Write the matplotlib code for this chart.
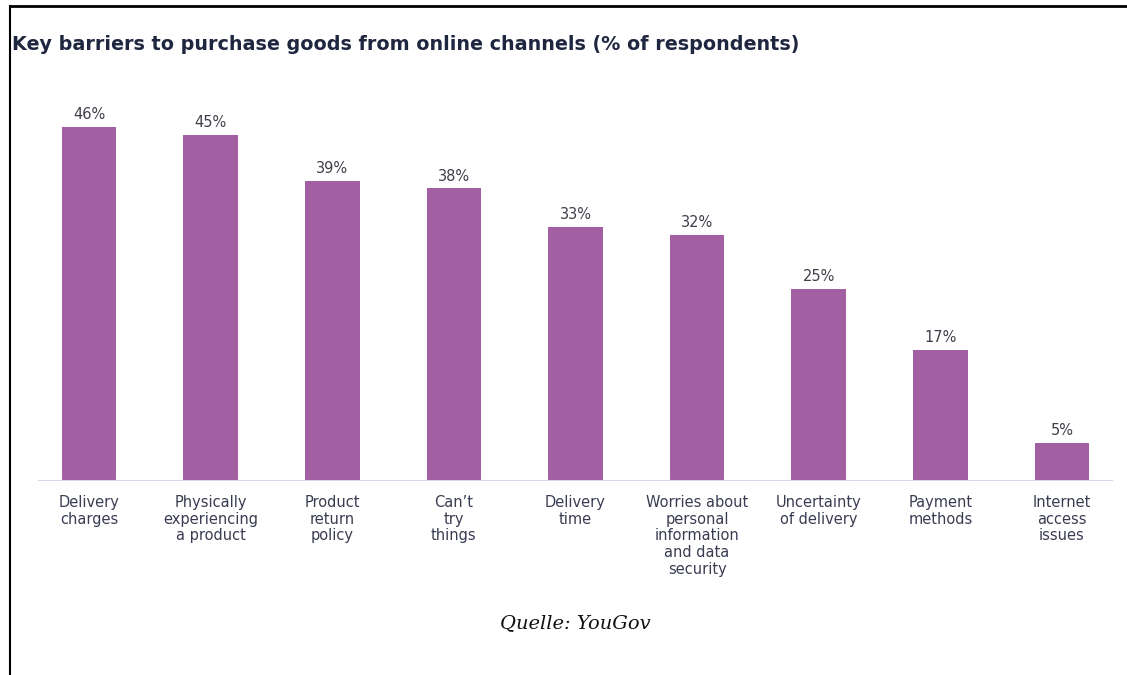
import matplotlib
matplotlib.use("Agg")
import matplotlib.pyplot as plt
from matplotlib.lines import Line2D

categories = [
    "Delivery\ncharges",
    "Physically\nexperiencing\na product",
    "Product\nreturn\npolicy",
    "Can\u2019t\ntry\nthings",
    "Delivery\ntime",
    "Worries about\npersonal\ninformation\nand data\nsecurity",
    "Uncertainty\nof delivery",
    "Payment\nmethods",
    "Internet\naccess\nissues",
]
values = [46, 45, 39, 38, 33, 32, 25, 17, 5]

title = "Key barriers to purchase goods from online channels (% of respondents)"
source = "Quelle: YouGov"

W, H = 1127, 675
fig = plt.figure(figsize=(W / 100, H / 100), dpi=100)
fig.patch.set_facecolor("white")

# plot area in pixel coordinates
left_px, right_px, base_px = 38, 1113, 481
px_per_unit = 7.7
ymax = 50
top_px = base_px - ymax * px_per_unit
ax = fig.add_axes([left_px / W, 1 - base_px / H,
                   (right_px - left_px) / W, (base_px - top_px) / H])

bar_color = "#A25FA1"
x = list(range(len(values)))
ax.bar(x, values, width=0.45, color=bar_color, zorder=2)
ax.set_xlim(-0.42, len(values) - 1 + 0.42)
ax.set_ylim(0, ymax)
ax.axhline(0, color="#DCD6EA", lw=1.5, zorder=3)
for s in ax.spines.values():
    s.set_visible(False)
ax.set_yticks([])
ax.set_xticks([])

for xi, v in zip(x, values):
    ax.annotate(f"{v}%", (xi, v), xytext=(0, 3.5), textcoords="offset points",
                ha="center", va="bottom", fontsize=10.5, color="#3F3F4A",
                family="DejaVu Sans")
    ax.annotate(categories[xi], (xi, 0), xytext=(0, -10), textcoords="offset points",
                ha="center", va="top", fontsize=10.5, color="#3A3D52",
                family="DejaVu Sans", linespacing=1.15)

fig.text(12 / W, 1 - 45 / H, title, ha="left", va="center",
         fontsize=13.8, fontweight="bold", color="#1F2640", family="DejaVu Sans")
fig.text(575 / W, 1 - 623 / H, source, ha="center", va="center",
         fontsize=14, style="italic", color="#111111", family="DejaVu Serif")

# outer frame: top and left edges
fig.add_artist(Line2D([9.5 / W, 1], [1 - 6 / H, 1 - 6 / H],
                      transform=fig.transFigure, color="black", lw=2))
fig.add_artist(Line2D([9.5 / W, 9.5 / W], [0, 1 - 6 / H],
                      transform=fig.transFigure, color="black", lw=1.5))

fig.savefig("out.png", dpi=100)
